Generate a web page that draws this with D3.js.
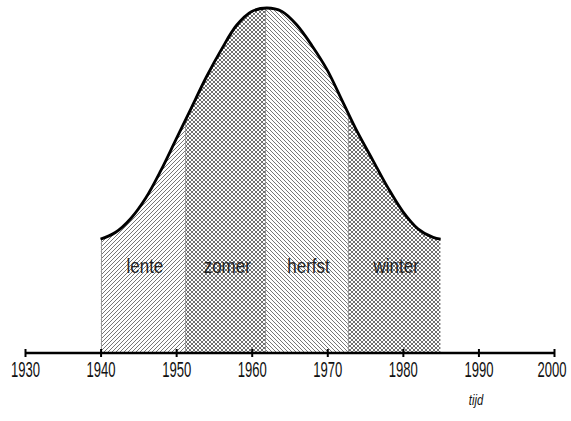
<!DOCTYPE html>
<html>
<head>
<meta charset="utf-8">
<script src="https://cdn.jsdelivr.net/npm/d3@7"></script>
<style>
  body { margin: 0; background: #fff; }
  svg { display: block; }
</style>
</head>
<body>
<div id="chart"></div>
<script>
// data
const tickYears = [1930, 1940, 1950, 1960, 1970, 1980, 1990, 2000];
const seasons = ["lente", "zomer", "herfst", "winter"];
const seasonBounds = [1940, 1951.2, 1961.8, 1972.7, 1985];
const seasonPatterns = ["diag", "cross", "back", "cross"];
const curveYears  = [1940, 1942, 1944, 1946, 1948, 1950, 1952, 1954, 1956, 1958, 1960, 1962, 1964, 1966, 1968, 1970, 1972, 1974, 1976, 1978, 1980, 1982, 1984, 1985];
const curveValues = [33,   35,   39,   45,   53,   62,   71,   80,   88,   95,   99,   100,  99,   95,   89,   82,   73,   64,   56,   48,   41,   36,   33.5, 33];
const axisLabel = "tijd";

const WIDTH = 571, HEIGHT = 421;
const AXIS_Y = 353;
const FONT = "Liberation Sans Narrow, Liberation Sans, Arial, sans-serif";

const svg = d3.select("#chart").append("svg")
    .attr("width", WIDTH)
    .attr("height", HEIGHT);

const x = d3.scaleLinear().domain([1930, 2000]).range([25, 554]);
const y = d3.scaleLinear().domain([0, 100]).range([AXIS_Y, 8]);

const curveData = curveYears.map((yr, i) => ({year: yr, value: curveValues[i]}));

// squeeze text horizontally, like the condensed font of the original
function narrow(sel, f) {
    sel.each(function () {
        const w = this.getComputedTextLength();
        d3.select(this).attr("textLength", w * f).attr("lengthAdjust", "spacingAndGlyphs");
    });
}

//   PATTERNS
const defs = svg.append("defs");
const PAT = 4;
const patternPaths = {
    diag: "M-1,1 L1,-1 M0,4 L4,0 M3,5 L5,3",
    back: "M-1,3 L1,5 M0,0 L4,4 M3,-1 L5,1",
    cross: "M-1,1 L1,-1 M0,4 L4,0 M3,5 L5,3 M-1,3 L1,5 M0,0 L4,4 M3,-1 L5,1"
};
Object.keys(patternPaths).forEach(k => {
    const p = defs.append("pattern")
        .attr("id", "pat_" + k)
        .attr("patternUnits", "userSpaceOnUse")
        .attr("width", PAT)
        .attr("height", PAT);
    p.append("rect").attr("width", PAT).attr("height", PAT).attr("fill", "#fff");
    p.append("path")
        .attr("d", patternPaths[k])
        .attr("stroke", k == "cross" ? "#707070" : "#777")
        .attr("stroke-width", 1)
        .attr("shape-rendering", "crispEdges")
        .attr("fill", "none");
});

const area = d3.area()
    .x(d => x(d.year))
    .y0(AXIS_Y)
    .y1(d => y(d.value))
    .curve(d3.curveCatmullRom.alpha(0.5));

const line = d3.line()
    .x(d => x(d.year))
    .y(d => y(d.value))
    .curve(d3.curveCatmullRom.alpha(0.5));

defs.append("clipPath").attr("id", "bellClip")
    .append("path")
    .attr("d", area(curveData));

//   SEASON BANDS
const bands = seasons.map((s, i) => ({name: s, x0: seasonBounds[i], x1: seasonBounds[i + 1], pat: seasonPatterns[i]}));

const bandG = svg.append("g").attr("clip-path", "url(#bellClip)");
bandG.selectAll("rect")
    .data(bands)
    .join("rect")
    .attr("x", d => x(d.x0))
    .attr("width", d => x(d.x1) - x(d.x0))
    .attr("y", 0)
    .attr("height", AXIS_Y)
    .attr("fill", d => "url(#pat_" + d.pat + ")");

bandG.selectAll("line")
    .data(seasonBounds)
    .join("line")
    .attr("x1", d => Math.round(x(d)) + 0.5)
    .attr("x2", d => Math.round(x(d)) + 0.5)
    .attr("y1", 0)
    .attr("y2", AXIS_Y)
    .attr("stroke", "#999")
    .attr("stroke-width", 1);

// bell line
svg.append("path")
    .datum(curveData)
    .attr("d", line)
    .attr("fill", "none")
    .attr("stroke", "#000")
    .attr("stroke-width", 2.8);

// season labels
svg.append("g").selectAll("text")
    .data(bands)
    .join("text")
    .attr("x", d => x((d.x0 + d.x1) / 2) + 2)
    .attr("y", 273)
    .attr("text-anchor", "middle")
    .attr("font-family", FONT)
    .attr("font-size", 20)
    .attr("fill", "#222")
    .text(d => d.name)
    .call(narrow, 0.85);

//   AXIS
const xAxis = d3.axisBottom(x)
    .tickValues(tickYears)
    .tickFormat(d3.format("d"))
    .tickSize(4)
    .tickPadding(6);

const axisG = svg.append("g")
    .attr("transform", `translate(0, ${AXIS_Y})`)
    .call(xAxis);

axisG.select(".domain")
    .attr("d", `M${x(1930)},0H${x(2000)}`)
    .attr("stroke", "#000")
    .attr("stroke-width", 2.4);

axisG.selectAll(".tick line")
    .attr("y1", -4)
    .attr("y2", 4)
    .attr("stroke", "#000")
    .attr("stroke-width", 2);

axisG.selectAll(".tick text")
    .attr("y", 24)
    .attr("dy", 0)
    .attr("font-family", FONT)
    .attr("font-size", 22)
    .attr("fill", "#111")
    .attr("textLength", 29)
    .attr("lengthAdjust", "spacingAndGlyphs");

// last label sits against the right edge
axisG.selectAll(".tick text")
    .filter(d => d == d3.max(tickYears))
    .attr("text-anchor", "end")
    .attr("x", 12);

svg.append("text")
    .attr("x", 476)
    .attr("y", 405)
    .attr("text-anchor", "middle")
    .attr("font-family", FONT)
    .attr("font-style", "italic")
    .attr("font-size", 15)
    .attr("fill", "#111")
    .text(axisLabel)
    .call(narrow, 0.75);
</script>
</body>
</html>
